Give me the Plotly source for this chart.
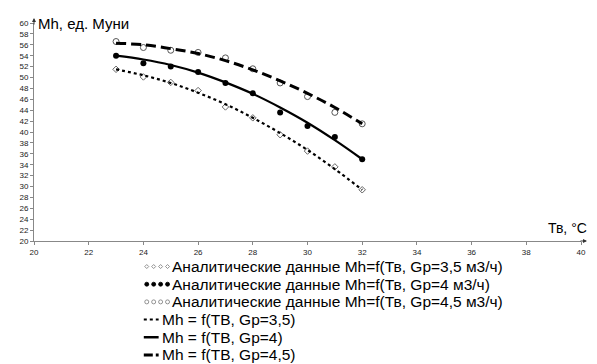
import plotly.graph_objects as go

# Data
t_points = [23, 24, 25, 26, 27, 28, 29, 30, 31, 32]
mh_gp35 = [51.5, 50.1, 49.1, 47.6, 44.6, 42.6, 39.5, 36.5, 33.6, 29.4]
mh_gp40 = [54.0, 52.6, 52.0, 51.0, 49.0, 47.1, 43.6, 41.1, 39.1, 35.0]
mh_gp45 = [56.6, 55.5, 55.0, 54.6, 53.6, 51.6, 49.0, 46.5, 43.6, 41.5]

t_curve = [23, 24, 25, 26, 27, 28, 29, 30, 31, 32]
fit_gp35 = [51.5, 50.4, 49.0, 47.2, 45.1, 42.6, 39.8, 36.7, 33.2, 29.4]
fit_gp40 = [54.0, 53.3, 52.3, 50.9, 49.1, 47.0, 44.5, 41.7, 38.5, 35.0]
fit_gp45 = [56.3, 56.0, 55.3, 54.4, 53.1, 51.4, 49.4, 47.1, 44.5, 41.5]

x_ticks = [20, 22, 24, 26, 28, 30, 32, 34, 36, 38, 40]
y_ticks = list(range(20, 61, 2))

names = [
    "Аналитические данные Mh=f(Тв, Gp=3,5 м3/ч)",
    "Аналитические данные Mh=f(Тв, Gp=4 м3/ч)",
    "Аналитические данные Mh=f(Тв, Gp=4,5 м3/ч)",
    "Mh = f(TB, Gp=3,5)",
    "Mh = f(TB, Gp=4)",
    "Mh = f(TB, Gp=4,5)",
]

# page body margin offsets the figure by 8px
OFF = 8
W, H = 589, 356
L, T = 23, 11
PW, PH = 553, 222
R, B = W - L - PW, H - T - PH
FONT = "Liberation Sans, Arial"


def px_x(x):
    return (x - OFF - L) / PW


def px_y(y):
    return 1 - (y - OFF - T) / PH


fig = go.Figure()
fig.add_trace(go.Scatter(x=t_points, y=mh_gp35, mode="markers", name=names[0],
                         marker=dict(symbol="diamond-open", size=5, color="#666666", line=dict(width=1))))
fig.add_trace(go.Scatter(x=t_points, y=mh_gp40, mode="markers", name=names[1],
                         marker=dict(symbol="circle", size=6, color="black")))
fig.add_trace(go.Scatter(x=t_points, y=mh_gp45, mode="markers", name=names[2],
                         marker=dict(symbol="circle-open", size=6, color="#555555", line=dict(width=1))))
fig.add_trace(go.Scatter(x=t_curve, y=fit_gp35, mode="lines", name=names[3], line_shape="spline",
                         line=dict(color="black", width=2.2, dash="dot")))
fig.add_trace(go.Scatter(x=t_curve, y=fit_gp40, mode="lines", name=names[4], line_shape="spline",
                         line=dict(color="black", width=2.2)))
fig.add_trace(go.Scatter(x=t_curve, y=fit_gp45, mode="lines", name=names[5], line_shape="spline",
                         line=dict(color="black", width=3, dash="10px,5px")))

axis_common = dict(showgrid=False, zeroline=False, showline=True, linecolor="#888888", linewidth=1,
                   ticks="outside", ticklen=3, tickcolor="#888888",
                   tickfont=dict(family=FONT, size=8, color="#222222"))

fig.update_xaxes(range=[20, 40], tickvals=x_ticks, ticktext=[str(v) for v in x_ticks], **axis_common)
fig.update_yaxes(range=[20, 60], tickvals=y_ticks, ticktext=[str(v) for v in y_ticks], **axis_common)

# Manual legend
shapes = []
annotations = []
row0, dy = 267.0, 18.0
marker_xs = [145, 152, 159, 166]
for i, name in enumerate(names):
    yc = row0 + i * dy
    if i < 3:
        for mx in marker_xs:
            if i == 0:
                shapes.append(dict(type="path", xref="paper", yref="paper", xsizemode="pixel", ysizemode="pixel",
                                   xanchor=px_x(mx), yanchor=px_y(yc),
                                   path="M -2 0 L 0 2 L 2 0 L 0 -2 Z",
                                   line=dict(color="#777777", width=0.8), fillcolor="white"))
            else:
                shapes.append(dict(type="circle", xref="paper", yref="paper", xsizemode="pixel", ysizemode="pixel",
                                   xanchor=px_x(mx), yanchor=px_y(yc), x0=-2, x1=2, y0=-2, y1=2,
                                   line=dict(color="black" if i == 1 else "#777777", width=0.8),
                                   fillcolor="black" if i == 1 else "white"))
        tx = 168
    else:
        dash = {3: "dot", 4: "solid", 5: "9px,3px"}[i]
        width = {3: 2, 4: 2.5, 5: 3}[i]
        shapes.append(dict(type="line", xref="paper", yref="paper",
                           x0=px_x(142), x1=px_x(157), y0=px_y(yc), y1=px_y(yc),
                           line=dict(color="black", width=width, dash=dash)))
        tx = 158
    annotations.append(dict(x=px_x(tx), y=px_y(yc), xref="paper", yref="paper", xanchor="left",
                            yanchor="middle", text=name, showarrow=False,
                            font=dict(size=15.5, family=FONT, color="black")))

annotations += [
    dict(x=0, y=1.0, xref="paper", yref="paper", xanchor="left", yanchor="middle",
         xshift=2, text="Mh, ед. Муни", showarrow=False, font=dict(size=15)),
    dict(x=1, y=0, xref="paper", yref="paper", xanchor="right", yanchor="bottom",
         yshift=3, xshift=8, text="Тв, °С", showarrow=False, font=dict(size=14)),
    dict(x=40, y=20, xref="x", yref="y", ax=-8, ay=0, text="", showarrow=True,
         arrowhead=2, arrowsize=0.8, arrowwidth=1, arrowcolor="#333333", xshift=6),
    dict(x=20, y=60, xref="x", yref="y", ax=0, ay=8, text="", showarrow=True,
         arrowhead=2, arrowsize=0.8, arrowwidth=1, arrowcolor="#333333", yshift=5),
]

fig.update_layout(
    width=W, height=H,
    margin=dict(l=L, r=R, t=T, b=B),
    plot_bgcolor="white", paper_bgcolor="white",
    font=dict(family=FONT, color="black"),
    showlegend=False,
    shapes=shapes,
    annotations=annotations,
)

fig.write_html("out.html")
